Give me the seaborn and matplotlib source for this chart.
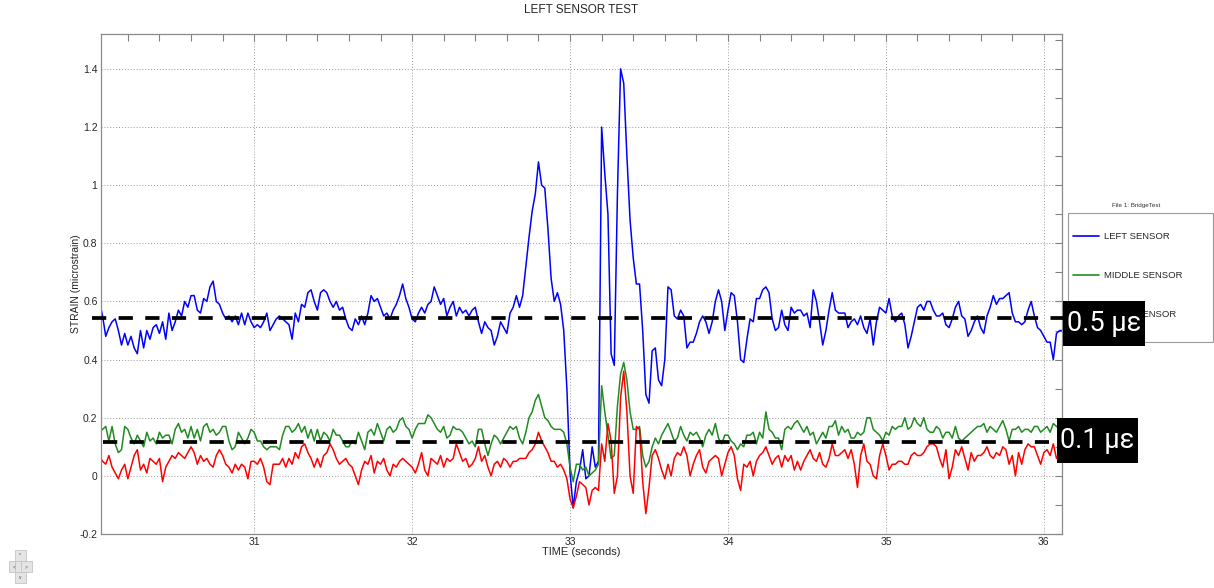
import numpy as np
import pandas as pd
import seaborn as sns
import matplotlib.pyplot as plt
from matplotlib.patches import Rectangle
from matplotlib.lines import Line2D
from matplotlib.ticker import MultipleLocator, FuncFormatter

# Muestreo (s)
t_start = 30.02
t_step = 0.02

# Lecturas de los sensores (microstrain), una cada 0.02 s
left_sensor = [
    0.60, 0.55, 0.48, 0.51, 0.53, 0.54, 0.50, 0.45, 0.49, 0.45,
    0.48, 0.44, 0.42, 0.50, 0.44, 0.50, 0.47, 0.51, 0.52, 0.49,
    0.53, 0.47, 0.56, 0.50, 0.53, 0.57, 0.55, 0.60, 0.58, 0.62,
    0.62, 0.57, 0.56, 0.61, 0.60, 0.65, 0.67, 0.60, 0.59, 0.56,
    0.54, 0.55, 0.53, 0.55, 0.52, 0.56, 0.52, 0.56, 0.53, 0.51,
    0.52, 0.51, 0.53, 0.56, 0.50, 0.52, 0.54, 0.55, 0.54, 0.53,
    0.52, 0.47, 0.56, 0.53, 0.59, 0.58, 0.63, 0.64, 0.60, 0.57,
    0.63, 0.64, 0.63, 0.60, 0.58, 0.60, 0.57, 0.58, 0.54, 0.51,
    0.50, 0.54, 0.52, 0.55, 0.52, 0.56, 0.62, 0.60, 0.61, 0.58,
    0.55, 0.56, 0.54, 0.57, 0.59, 0.62, 0.66, 0.61, 0.58, 0.54,
    0.53, 0.56, 0.58, 0.56, 0.59, 0.60, 0.65, 0.62, 0.59, 0.61,
    0.55, 0.58, 0.60, 0.55, 0.58, 0.56, 0.57, 0.55, 0.57, 0.58,
    0.53, 0.49, 0.53, 0.51, 0.50, 0.45, 0.48, 0.53, 0.51, 0.49,
    0.56, 0.58, 0.62, 0.58, 0.62, 0.72, 0.82, 0.91, 0.97, 1.08,
    1.00, 0.99, 0.85, 0.68, 0.60, 0.63, 0.59, 0.50, 0.30, 0.01,
    -0.11, -0.02, 0.02, 0.09, -0.01, 0.00, 0.10, 0.03, 0.05, 1.20,
    1.04, 0.90, 0.42, 0.38, 0.97, 1.40, 1.35, 1.10, 0.88, 0.75,
    0.66, 0.66, 0.50, 0.28, 0.25, 0.43, 0.44, 0.33, 0.31, 0.40,
    0.65, 0.64, 0.55, 0.54, 0.57, 0.55, 0.44, 0.46, 0.46, 0.49,
    0.53, 0.55, 0.53, 0.49, 0.53, 0.60, 0.64, 0.60, 0.50, 0.57,
    0.63, 0.62, 0.53, 0.40, 0.39, 0.47, 0.54, 0.53, 0.61, 0.61,
    0.64, 0.65, 0.63, 0.54, 0.50, 0.51, 0.57, 0.52, 0.50, 0.58,
    0.56, 0.57, 0.57, 0.55, 0.56, 0.51, 0.64, 0.60, 0.53, 0.45,
    0.50, 0.57, 0.63, 0.57, 0.56, 0.56, 0.56, 0.51, 0.53, 0.54,
    0.52, 0.55, 0.51, 0.49, 0.54, 0.45, 0.53, 0.58, 0.57, 0.56,
    0.61, 0.55, 0.53, 0.55, 0.56, 0.52, 0.44, 0.48, 0.53, 0.58,
    0.59, 0.57, 0.60, 0.60, 0.57, 0.55, 0.55, 0.56, 0.52, 0.51,
    0.54, 0.58, 0.60, 0.55, 0.54, 0.48, 0.50, 0.53, 0.55, 0.51,
    0.49, 0.55, 0.58, 0.62, 0.59, 0.61, 0.61, 0.62, 0.63, 0.56,
    0.53, 0.53, 0.52, 0.53, 0.57, 0.60, 0.55, 0.51, 0.50, 0.48,
    0.46, 0.46, 0.40, 0.49, 0.50, 0.50, 0.50,
]
middle_sensor = [
    0.15, 0.16, 0.17, 0.12, 0.17, 0.11, 0.08, 0.09, 0.17, 0.16,
    0.13, 0.11, 0.14, 0.12, 0.10, 0.15, 0.12, 0.13, 0.11, 0.15,
    0.13, 0.14, 0.14, 0.11, 0.16, 0.18, 0.15, 0.16, 0.13, 0.17,
    0.13, 0.16, 0.12, 0.17, 0.18, 0.15, 0.16, 0.14, 0.15, 0.17,
    0.17, 0.12, 0.09, 0.10, 0.15, 0.13, 0.11, 0.13, 0.16, 0.15,
    0.12, 0.12, 0.10, 0.09, 0.10, 0.10, 0.10, 0.09, 0.14, 0.17,
    0.17, 0.15, 0.16, 0.18, 0.15, 0.17, 0.13, 0.16, 0.12, 0.16,
    0.12, 0.15, 0.14, 0.12, 0.16, 0.14, 0.14, 0.12, 0.10, 0.10,
    0.12, 0.11, 0.15, 0.12, 0.09, 0.15, 0.16, 0.14, 0.18, 0.15,
    0.12, 0.16, 0.17, 0.15, 0.16, 0.19, 0.20, 0.17, 0.16, 0.13,
    0.16, 0.18, 0.18, 0.18, 0.21, 0.20, 0.18, 0.16, 0.15, 0.17,
    0.13, 0.14, 0.17, 0.16, 0.16, 0.15, 0.13, 0.11, 0.12, 0.10,
    0.16, 0.16, 0.11, 0.07, 0.11, 0.14, 0.13, 0.11, 0.13, 0.15,
    0.17, 0.16, 0.17, 0.13, 0.11, 0.15, 0.20, 0.22, 0.26, 0.28,
    0.24, 0.20, 0.19, 0.17, 0.16, 0.16, 0.16, 0.15, 0.11, 0.03,
    -0.02, 0.04, 0.04, 0.02, 0.03, 0.00, 0.01, 0.02, 0.04, 0.31,
    0.22, 0.14, 0.06, 0.07, 0.24, 0.35, 0.39, 0.33, 0.22, 0.16,
    0.16, 0.17, 0.07, 0.03, 0.05, 0.10, 0.13, 0.11, 0.14, 0.16,
    0.18, 0.15, 0.12, 0.13, 0.17, 0.14, 0.12, 0.15, 0.14, 0.15,
    0.13, 0.10, 0.14, 0.16, 0.14, 0.18, 0.13, 0.11, 0.14, 0.14,
    0.12, 0.11, 0.09, 0.11, 0.10, 0.14, 0.14, 0.15, 0.11, 0.15,
    0.13, 0.22, 0.16, 0.15, 0.13, 0.13, 0.09, 0.16, 0.17, 0.16,
    0.18, 0.19, 0.17, 0.15, 0.17, 0.14, 0.15, 0.11, 0.13, 0.15,
    0.13, 0.17, 0.17, 0.19, 0.14, 0.17, 0.15, 0.16, 0.13, 0.13,
    0.15, 0.14, 0.15, 0.20, 0.20, 0.16, 0.15, 0.14, 0.12, 0.15,
    0.14, 0.17, 0.16, 0.17, 0.17, 0.20, 0.16, 0.17, 0.20, 0.18,
    0.17, 0.20, 0.16, 0.15, 0.15, 0.17, 0.16, 0.13, 0.15, 0.15,
    0.13, 0.17, 0.13, 0.12, 0.13, 0.14, 0.15, 0.16, 0.17, 0.17,
    0.18, 0.15, 0.17, 0.16, 0.15, 0.17, 0.19, 0.16, 0.12, 0.16,
    0.16, 0.17, 0.15, 0.16, 0.16, 0.15, 0.17, 0.17, 0.15, 0.16,
    0.17, 0.15, 0.18, 0.17, 0.16, 0.17, 0.16,
]
right_sensor = [
    0.07, 0.05, 0.04, 0.07, 0.03, 0.01, -0.01, 0.02, 0.04, -0.01,
    0.03, 0.07, 0.09, 0.02, 0.04, 0.01, 0.06, 0.05, 0.04, 0.06,
    -0.02, 0.03, 0.05, 0.07, 0.06, 0.08, 0.07, 0.06, 0.08, 0.10,
    0.08, 0.04, 0.07, 0.05, 0.06, 0.04, 0.03, 0.07, 0.09, 0.07,
    0.04, 0.03, 0.01, 0.04, 0.02, 0.04, 0.03, -0.01, 0.05, 0.05,
    0.04, 0.06, 0.03, -0.02, -0.03, 0.04, 0.04, 0.04, 0.06, 0.03,
    0.06, 0.04, 0.08, 0.06, 0.10, 0.11, 0.08, 0.06, 0.03, 0.06,
    0.03, 0.07, 0.08, 0.11, 0.09, 0.06, 0.04, 0.05, 0.06, 0.04,
    0.03, 0.00, -0.03, 0.02, 0.05, 0.04, 0.07, 0.01, 0.05, 0.04,
    0.06, 0.02, 0.00, 0.04, 0.03, 0.05, 0.06, 0.05, 0.04, 0.03,
    0.01, 0.04, 0.08, 0.02, 0.00, 0.06, 0.05, 0.04, 0.07, 0.03,
    0.06, 0.05, 0.06, 0.11, 0.08, 0.05, 0.06, 0.03, 0.04, 0.06,
    0.10, 0.05, 0.07, 0.03, 0.00, 0.04, 0.05, 0.03, 0.06, 0.05,
    0.03, 0.05, 0.05, 0.06, 0.06, 0.06, 0.08, 0.09, 0.11, 0.15,
    0.12, 0.10, 0.08, 0.05, 0.05, 0.03, 0.04, 0.02, -0.01, -0.08,
    -0.11, -0.07, -0.02, -0.03, -0.04, -0.10, -0.05, -0.04, -0.05, 0.11,
    0.05, 0.18, 0.12, -0.06, 0.00, 0.27, 0.36, 0.22, 0.00, -0.06,
    0.17, 0.16, -0.02, -0.13, -0.04, 0.07, 0.09, 0.06, 0.02, -0.01,
    0.04, 0.00, 0.06, 0.08, 0.07, 0.10, 0.07, 0.00, 0.04, 0.07,
    0.09, 0.03, 0.01, 0.05, 0.06, 0.07, 0.06, 0.00, 0.04, 0.08,
    0.10, 0.07, -0.01, -0.05, 0.04, 0.03, 0.05, 0.00, 0.05, 0.07,
    0.08, 0.10, 0.07, 0.04, 0.06, 0.07, 0.03, 0.07, 0.05, 0.07,
    0.02, 0.05, 0.02, 0.05, 0.07, 0.09, 0.06, 0.05, 0.08, 0.04,
    0.03, 0.06, 0.11, 0.07, 0.07, 0.08, 0.09, 0.06, 0.09, 0.04,
    -0.04, 0.07, 0.11, 0.05, 0.04, 0.00, -0.01, 0.07, 0.11, 0.07,
    0.02, 0.04, 0.04, 0.05, 0.05, 0.04, 0.04, 0.07, 0.08, 0.07,
    0.07, 0.08, 0.10, 0.11, 0.11, 0.10, 0.06, 0.03, 0.09, -0.01,
    0.03, 0.09, 0.07, 0.10, 0.06, 0.02, 0.08, 0.05, 0.07, 0.07,
    0.08, 0.10, 0.07, 0.06, 0.08, 0.07, 0.10, 0.09, 0.04, 0.07,
    0.00, 0.08, 0.04, 0.09, 0.11, 0.10, 0.10, 0.07, 0.04, 0.08,
    0.09, 0.07, 0.11, 0.06, 0.08, 0.07, 0.07,
]

sensor_names = ["LEFT SENSOR", "MIDDLE SENSOR", "RIGHT SENSOR"]
sensor_colors = ["#0000ff", "#218b21", "#ff0000"]

# Niveles de referencia (lineas discontinuas)
ref_levels = [0.542, 0.115]
ref_labels = ["0.5 με", "0.1 με"]
ref_spans = [(29.97, 36.12), (30.04, 36.03)]

n = len(left_sensor)
time = np.round(t_start + t_step * np.arange(n), 2)
df = pd.DataFrame({
    "time": np.tile(time, 3),
    "strain": left_sensor + middle_sensor + right_sensor,
    "sensor": np.repeat(sensor_names, n),
})

sns.set_style("white")
plt.rcParams["font.family"] = ["Liberation Sans", "DejaVu Sans"]

W, H = 1214, 588
fig = plt.figure(figsize=(W / 100, H / 100), dpi=100)
ax = fig.add_axes([101 / W, 1 - 534 / H, 961 / W, 500 / H])

sns.lineplot(data=df, x="time", y="strain", hue="sensor", hue_order=sensor_names,
             palette=dict(zip(sensor_names, sensor_colors)), linewidth=1.1,
             estimator=None, legend=False, ax=ax)

for lvl, (x0, x1) in zip(ref_levels, ref_spans):
    ax.plot([x0, x1], [lvl, lvl], color="black", lw=2.7, dashes=(3.8, 3.3),
            clip_on=False, zorder=5)

ax.set_xlim(30.03, 36.115)
ax.set_ylim(-0.2, 1.52)
ax.xaxis.set_major_locator(MultipleLocator(1))
ax.xaxis.set_minor_locator(MultipleLocator(0.2))
ax.yaxis.set_major_locator(MultipleLocator(0.2))
ax.yaxis.set_minor_locator(MultipleLocator(0.1))
ax.yaxis.set_major_formatter(FuncFormatter(lambda v, p: f"{round(v, 2):g}"))
ax.xaxis.set_major_formatter(FuncFormatter(lambda v, p: f"{v:g}"))

ax.tick_params(which="both", direction="in", top=True, right=True, length=5,
               width=0.8, color="#808080", labelsize=7.5, pad=2.5,
               labelcolor="#262626")
ax.grid(True, which="major", linestyle=(0, (1, 2)), color="#9a9a9a", linewidth=0.7)
for s in ax.spines.values():
    s.set_color("#8a8a8a")
    s.set_linewidth(0.9)

ax.set_title("LEFT SENSOR TEST", fontsize=8.5, pad=15, color="#262626")
ax.set_xlabel("TIME (seconds)", fontsize=8, color="#262626")
ax.set_ylabel("STRAIN (microstrain)", fontsize=7.5, color="#262626")
ax.xaxis.set_label_coords(0.5, -0.026)
ax.yaxis.set_label_coords(-0.021, 0.5)

# Leyenda
handles = [Line2D([], [], color=c, lw=1.2) for c in sensor_colors]
ax.legend(handles=handles, labels=sensor_names, loc="upper left",
          bbox_to_anchor=(1073 / W, 1 - 232 / H), bbox_transform=fig.transFigure,
          frameon=False, fontsize=6.8, labelspacing=3.2, handlelength=2.8,
          handletextpad=0.45, borderpad=0, borderaxespad=0)
fig.patches.append(Rectangle((1068 / W, 1 - 342 / H), 145 / W, 129 / H,
                             transform=fig.transFigure, fill=False,
                             edgecolor="#9a9a9a", lw=0.8))
fig.text(1136 / W, 1 - 205 / H, "File 1: BridgeTest", fontsize=4.5,
         ha="center", va="center", color="#333333")

# Etiquetas negras
boxes = [(1063, 301, 82, 45), (1057, 418, 81, 45)]
for (bx, by, bw, bh), lab in zip(boxes, ref_labels):
    fig.patches.append(Rectangle((bx / W, 1 - (by + bh) / H), bw / W, bh / H,
                                 transform=fig.transFigure, facecolor="black",
                                 edgecolor="none", zorder=10))
    fig.text((bx + bw / 2) / W, 1 - (by + bh / 2) / H, lab, color="white",
             fontsize=19.5, family=["Roboto", "Liberation Sans", "DejaVu Sans"],
             ha="center", va="center", zorder=11)

# Botones de navegacion (esquina inferior izquierda)
nav = [(15, 550, "^"), (9, 561, "<"), (15, 561, ""), (21, 561, ">"), (15, 572, "v")]
for bx, by, sym in nav:
    fig.patches.append(Rectangle((bx / W, 1 - (by + 11) / H), 11 / W, 11 / H,
                                 transform=fig.transFigure, facecolor="#e4e4e4",
                                 edgecolor="#c4c4c4", lw=0.6))
    if sym:
        fig.text((bx + 5.5) / W, 1 - (by + 5.5) / H, sym, fontsize=3.5,
                 ha="center", va="center", color="#555555")

plt.savefig("out.png", dpi=100)
plt.close()
